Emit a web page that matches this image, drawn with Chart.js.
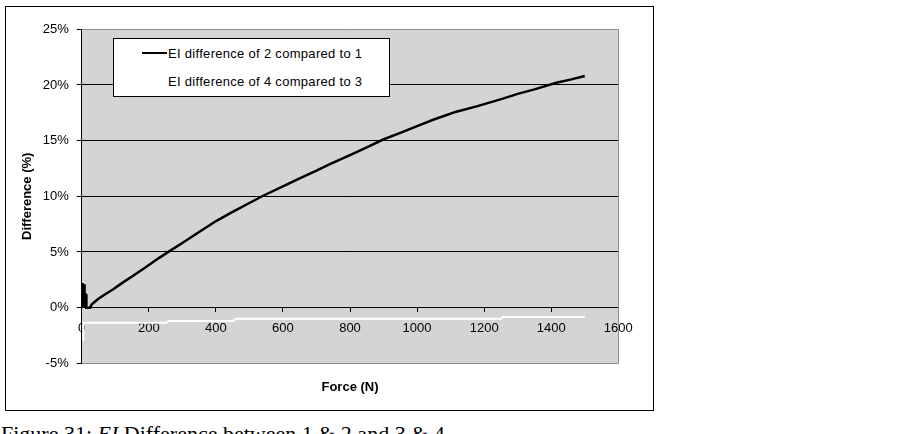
<!DOCTYPE html>
<html>
<head>
<meta charset="utf-8">
<script src="https://cdn.jsdelivr.net/npm/chart.js@4.4.0/dist/chart.umd.min.js"></script>
<style>
  body { margin: 0; background: #fff; width: 923px; height: 434px; overflow: hidden; position: relative; }
  #box { position: absolute; left: 5px; top: 6px; width: 647px; height: 403px; border: 1px solid #000; }
  #legend { position: absolute; left: 113px; top: 38px; width: 275px; height: 57px; border: 1px solid #000; background: #fff;
            font: 13px "Liberation Sans", Arial, sans-serif; letter-spacing: 0.3px; color: #000; }
  .item { position: absolute; left: 0; height: 15px; line-height: 15px; white-space: nowrap; }
  .swatch { position: absolute; left: 28px; top: 6px; width: 25px; height: 0; border-top: 2.5px solid #000; }
  .txt { position: absolute; left: 54px; top: 0; }
  #caption { position: absolute; left: 1px; top: 423px; font: 22px "Liberation Serif", "Times New Roman", serif; line-height: 22px; white-space: nowrap; }
</style>
</head>
<body>
<div id="box"><canvas id="graph"></canvas></div>
<div id="legend"></div>
<div id="caption">Figure 31: <i>EI</i> Difference between 1 &amp; 2 and 3 &amp; 4</div>
<script>
/* values: force (N) and difference (%) */
const seriesLabels = ["EI difference of 2 compared to 1", "EI difference of 4 compared to 3"]

const force21 = [0, 1, 2, 3, 4, 5, 6, 7, 8, 9, 10, 11, 12, 13, 14, 25, 30, 50, 70, 94, 120, 150, 194, 230, 263, 300, 350, 402, 450, 500, 541, 600, 650, 700, 740, 800, 850, 899, 950, 1000, 1050, 1117, 1180, 1256, 1300, 1350, 1415, 1460, 1500]
const diff21 = [0, 2.2, 0.3, 2.2, 0.2, 2.1, 0.2, 2.1, 0.3, 1.4, 0.1, 1.3, 0.1, 1.2, 0, 0, 0.3, 0.8, 1.2, 1.65, 2.2, 2.8, 3.7, 4.45, 5.1, 5.8, 6.8, 7.8, 8.6, 9.4, 10.05, 10.9, 11.6, 12.3, 12.9, 13.7, 14.4, 15.1, 15.7, 16.3, 16.9, 17.6, 18.1, 18.77, 19.2, 19.6, 20.2, 20.5, 20.8]

const force43 = [4, 5, 253, 260, 451, 460, 1251, 1255, 1500]
const diff43 = [-2.9, -1.35, -1.35, -1.2, -1.2, -1.0, -1.0, -0.85, -0.85]

const xTicks = { min: 0, max: 1600, step: 200 }
const yTicks = { min: -5, max: 25, step: 5 }

const toPoints = (xs, ys) => xs.map((x, i) => ({ x: x, y: ys[i] }))

const lineColors = ["#000000", "#ffffff"]

/* html legend, boxed inside the plot like the original */
const legend = document.querySelector("#legend")
seriesLabels.forEach((label, i) => {
    legend.innerHTML += `
    <div class="item" style="top:${7 + i * 28}px">
        ${i === 0 ? '<span class="swatch"></span>' : ""}
        <span class="txt">${label}</span>
    </div>`
})

const plotBackground = {
    id: "plotBackground",
    beforeDraw(chart) {
        const { ctx, chartArea: a } = chart
        ctx.save()
        ctx.fillStyle = "#d4d4d4"
        ctx.fillRect(a.left, a.top, a.right - a.left, a.bottom - a.top)
        ctx.restore()
    },
    afterDraw(chart) {
        const { ctx, chartArea: a } = chart
        ctx.save()
        ctx.strokeStyle = "#8c8c8c"
        ctx.lineWidth = 1
        ctx.beginPath()
        ctx.moveTo(Math.round(a.right) + 0.5, a.top)
        ctx.lineTo(Math.round(a.right) + 0.5, a.bottom)
        ctx.stroke()
        ctx.restore()
    }
}

const tickFont = { family: "'Liberation Sans', Arial, sans-serif", size: 13 }
const titleFont = { family: "'Liberation Sans', Arial, sans-serif", size: 13, weight: "bold" }

const config = {
    type: "scatter",
    data: {
        datasets: [
            {
                label: seriesLabels[0],
                data: toPoints(force21, diff21),
                showLine: true,
                borderColor: lineColors[0],
                borderWidth: 2.5,
                pointRadius: 0,
                tension: 0
            },
            {
                label: seriesLabels[1],
                data: toPoints(force43, diff43),
                showLine: true,
                borderColor: lineColors[1],
                borderWidth: 2,
                pointRadius: 0,
                tension: 0
            }
        ]
    },
    options: {
        responsive: false,
        animation: false,
        layout: { padding: { left: 0, top: 22.3, right: 34.7, bottom: 14.5 } },
        plugins: {
            legend: { display: false },
            tooltip: { enabled: false },
            title: {
                display: true,
                text: "Force (N)",
                position: "bottom",
                fullSize: false,
                color: "#000",
                font: titleFont,
                padding: { top: 16.6, bottom: 0 }
            }
        },
        scales: {
            x: {
                type: "linear",
                position: { y: 0 },
                min: xTicks.min,
                max: xTicks.max,
                ticks: { stepSize: xTicks.step, color: "#000", font: tickFont, padding: 9, maxRotation: 0, callback: v => String(v) },
                grid: { drawOnChartArea: false, drawTicks: true, tickLength: 4, tickColor: "#000" },
                border: { color: "#000", width: 1 }
            },
            y: {
                type: "linear",
                position: "left",
                min: yTicks.min,
                max: yTicks.max,
                ticks: { stepSize: yTicks.step, color: "#000", font: tickFont, padding: 8, callback: v => v + "%" },
                grid: {
                    color: c => (c.tick && (c.tick.value === yTicks.max || c.tick.value === yTicks.min)) ? "#8c8c8c" : "#000",
                    lineWidth: 1,
                    tickLength: 5,
                    tickColor: "#000"
                },
                border: { color: "#000", width: 1 },
                title: { display: true, text: "Difference (%)", color: "#000", font: titleFont, padding: { top: 13.7, bottom: 0 } },
                afterFit: scale => { scale.width = 75.7 }
            }
        }
    },
    plugins: [plotBackground]
}

const canvas = document.querySelector("#graph")
canvas.width = 647
canvas.height = 403
new Chart(canvas, config)
</script>
</body>
</html>
